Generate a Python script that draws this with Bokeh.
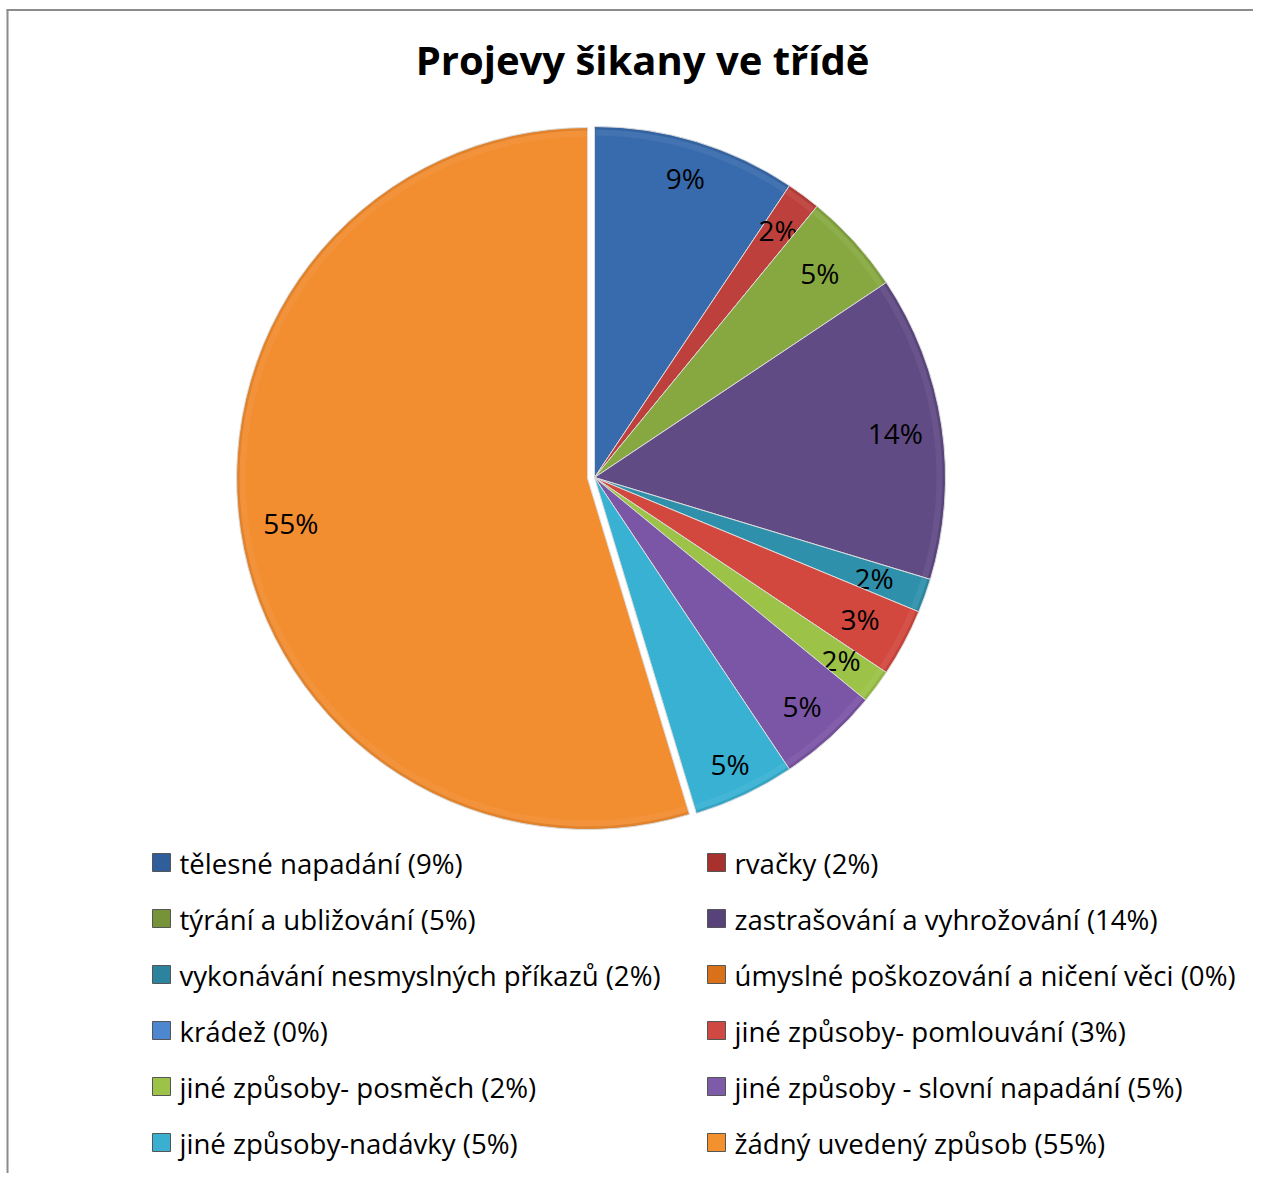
import math
from bokeh.plotting import figure
from bokeh.models import Range1d
from bokeh.core.properties import value
from bokeh.embed import file_html
from bokeh.resources import INLINE

# ---- data ----
title = "Projevy šikany ve třídě"
categories = [
    "tělesné napadání", "rvačky", "týrání a ubližování", "zastrašování a vyhrožování",
    "vykonávání nesmyslných příkazů", "úmyslné poškozování a ničení věci", "krádež",
    "jiné způsoby- pomlouvání", "jiné způsoby- posměch", "jiné způsoby - slovní napadání",
    "jiné způsoby-nadávky", "žádný uvedený způsob",
]
counts = [6, 1, 3, 9, 1, 0, 0, 2, 1, 3, 3, 35]
pct_labels = ["9%", "2%", "5%", "14%", "2%", "0%", "0%", "3%", "2%", "5%", "5%", "55%"]
exploded = [False] * 11 + [True]
colors = ["#386BAD", "#BE403C", "#87A840", "#604B85", "#2F90AB", "#E07A22",
          "#4A86CF", "#D2483F", "#9CC247", "#7C56A6", "#38B1D3", "#F28D30"]
legend_colors = ["#2F5E9A", "#A8302D", "#76933A", "#57437A", "#2C839D", "#D9701A",
                 "#4D87CF", "#CF4842", "#9CC24A", "#7E5BA8", "#3BAFD0", "#F2912E"]

# ---- layout (screenshot pixels) ----
W, H = 1253, 1173
CX, CY = 594, 477
R = 351
EXPLODE = 7
# best-fit distance of each percentage label from the pie centre
label_dist = [313, 308, 304, 304, 297, 300, 300, 301, 307, 309, 317, 300]
FONT = value("Open Sans")

p = figure(width=W, height=H, output_backend="svg", toolbar_location=None,
           x_range=Range1d(0, W), y_range=Range1d(-H, 0),
           min_border=0, outline_line_color=None)
p.axis.visible = False
p.grid.visible = False
p.background_fill_color = "white"

# chart frame (left and top borders)
p.segment(x0=[7, 6], y0=[-9, -9.5], x1=[7, W], y1=[-H, -9.5],
          line_color="#8c8c8c", line_width=2)

total = sum(counts)
cum = 0
for i, c in enumerate(counts):
    a0 = cum / total * 2 * math.pi
    cum += c
    a1 = cum / total * 2 * math.pi
    if c == 0:
        continue
    mid = (a0 + a1) / 2
    dx = dy = 0.0
    if exploded[i]:
        dx = EXPLODE * math.sin(mid)
        dy = EXPLODE * math.cos(mid)
    cx, cy = CX + dx, -CY + dy
    start = math.pi / 2 - a1
    end = math.pi / 2 - a0
    p.wedge(x=[cx], y=[cy], radius=R, start_angle=[start], end_angle=[end],
            fill_color=colors[i], line_color="#dcdcdc", line_width=1)
    # subtle bevel-like rim
    p.annular_wedge(x=[cx], y=[cy], inner_radius=R - 9, outer_radius=R - 3,
                    start_angle=[start + 0.004], end_angle=[end - 0.004],
                    fill_color="white", fill_alpha=0.06, line_color=None)
    p.annular_wedge(x=[cx], y=[cy], inner_radius=R - 3, outer_radius=R - 0.5,
                    start_angle=[start], end_angle=[end],
                    fill_color="black", fill_alpha=0.07, line_color=None)
    d = label_dist[i]
    lx = cx + d * math.sin(mid)
    ly = cy + d * math.cos(mid)
    p.text(x=[lx], y=[ly], text=[pct_labels[i]], text_align="center", text_baseline="middle",
           text_font=FONT, text_font_size="28px", text_color="black")

# title
p.text(x=[642], y=[-59], text=[title], text_align="center", text_baseline="middle",
       text_font=FONT, text_font_size="40px", text_font_style="bold", text_color="black")

# legend (two columns, row-major)
col_x = [152, 707]
row_y0, row_dy = 862, 56
for i, name in enumerate(categories):
    col = i % 2
    row = i // 2
    mx = col_x[col] + 9
    my = -(row_y0 + row * row_dy)
    p.rect(x=[mx], y=[my], width=18, height=18, fill_color=legend_colors[i],
           line_color="#555555", line_width=1)
    p.text(x=[col_x[col] + 27], y=[my], text=[f"{name} ({pct_labels[i]})"],
           text_align="left", text_baseline="middle", text_font=FONT,
           text_font_size="27.6px", text_color="black")

open("out.html", "w").write(file_html(p, INLINE))
